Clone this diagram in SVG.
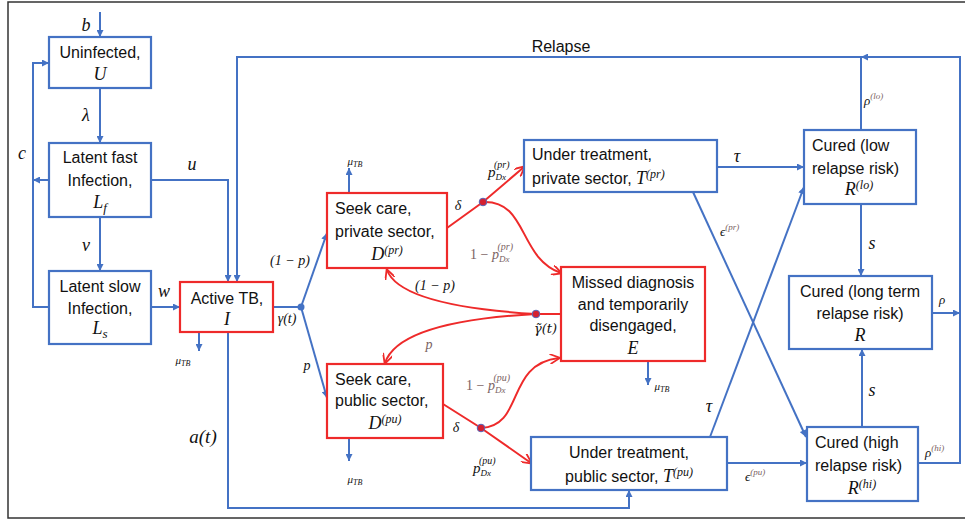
<svg xmlns="http://www.w3.org/2000/svg" width="965" height="521" viewBox="0 0 965 521">
<defs>
<style>
.nb{fill:#fff;stroke:#4472C4;stroke-width:2.2}
.nr{fill:#fff;stroke:#EE2A2A;stroke-width:2.2}
.t{font-family:"Liberation Sans",Arial,sans-serif;font-size:16px;fill:#111}
.m{font-family:"Liberation Serif","DejaVu Serif",serif;font-style:italic;fill:#111}
.cb{fill:none;stroke:#4472C4;stroke-width:2}
.cr{fill:none;stroke:#EE2A2A;stroke-width:2}
.ab{marker-end:url(#ab)}
.ar{marker-end:url(#ar)}
.g{fill:#7a6262}
</style>
<marker id="ab" viewBox="0 0 10 10" refX="10" refY="5" markerWidth="8" markerHeight="7" markerUnits="userSpaceOnUse" orient="auto"><path d="M0,0 L10,5 L0,10 z" fill="#4472C4"/></marker>
<marker id="ar" viewBox="0 0 10 10" refX="9" refY="5" markerWidth="11" markerHeight="10" markerUnits="userSpaceOnUse" orient="auto"><path d="M0,0 L10,5 L0,10" fill="none" stroke="#EE2A2A" stroke-width="1.8"/></marker>
</defs>
<rect x="0" y="0" width="965" height="521" fill="#fff"/>
<rect x="8" y="2" width="960" height="516" fill="none" stroke="#333" stroke-width="1.5"/>

<g id="connectors">
<line class="cb ab" x1="100" y1="12" x2="100" y2="37"/>
<line class="cb ab" x1="100" y1="88" x2="100" y2="143"/>
<line class="cb ab" x1="100" y1="217" x2="100" y2="271"/>
<line class="cb ab" x1="49" y1="180" x2="33" y2="180"/>
<polyline class="cb ab" points="49,307 33,307 33,63 49,63"/>
<polyline class="cb ab" points="151,180 228,180 228,282"/>
<line class="cb ab" x1="151" y1="307" x2="180" y2="307"/>
<polyline class="cb ab" points="918,463 960,463 960,57 861,57"/>
<polyline class="cb ab" points="861,130 861,57 237,57 237,282"/>
<line class="cb ab" x1="932" y1="313" x2="960" y2="313"/>
<line class="cb ab" x1="199" y1="332" x2="199" y2="351"/>
<line class="cb" x1="273" y1="307" x2="301" y2="307"/>
<line class="cb ab" x1="301" y1="307" x2="327" y2="233"/>
<line class="cb ab" x1="301" y1="307" x2="327" y2="398"/>
<circle cx="301" cy="307" r="3.5" fill="#4472C4"/>
<polyline class="cb ab" points="228,332 228,508 629,508 629,490"/>
<line class="cb ab" x1="349" y1="193" x2="349" y2="168"/>
<line class="cb ab" x1="349" y1="438" x2="349" y2="461"/>
<line class="cb ab" x1="648" y1="361" x2="648" y2="385"/>
<polyline class="cr ar" points="447,228 483,202 524,167"/>
<path class="cr ar" d="M483,202 C528,200 518,258 561,273"/>
<polyline class="cr ar" points="443,404 481,428 531,463"/>
<path class="cr ar" d="M481,428 C525,426 505,364 559,358"/>
<line class="cr" x1="536" y1="314" x2="565" y2="314"/>
<path class="cr ar" d="M536,314 C470,310 398,300 387,270"/>
<path class="cr ar" d="M536,314 C462,318 396,330 385,363"/>
<circle cx="483" cy="202" r="3.8" fill="#d42030" stroke="#5566bb" stroke-width="1"/>
<circle cx="481" cy="428" r="3.8" fill="#d42030" stroke="#5566bb" stroke-width="1"/>
<circle cx="536" cy="314" r="3.8" fill="#d42030" stroke="#5566bb" stroke-width="1"/>
<line class="cb ab" x1="717" y1="167" x2="804" y2="167"/>
<line class="cb ab" x1="693" y1="192" x2="806" y2="437"/>
<line class="cb ab" x1="710" y1="437" x2="804" y2="187"/>
<line class="cb ab" x1="727" y1="463" x2="807" y2="463"/>
<line class="cb ab" x1="861" y1="204" x2="861" y2="276"/>
<line class="cb ab" x1="862" y1="427" x2="862" y2="349"/>

<text class="m" x="86" y="31" font-size="18" text-anchor="middle">b</text>
<text class="m" x="86" y="121" font-size="18" text-anchor="middle">λ</text>
<text class="m" x="22" y="159" font-size="18" text-anchor="middle">c</text>
<text class="m" x="192" y="170" font-size="18" text-anchor="middle">u</text>
<text class="m" x="86" y="251" font-size="18" text-anchor="middle">v</text>
<text class="m" x="164" y="297" font-size="18" text-anchor="middle">w</text>
<text class="t" x="561" y="52" font-size="15" text-anchor="middle">Relapse</text>
<text class="m" x="183" y="364" font-size="11" text-anchor="middle">μ<tspan font-size="8" dy="2">TB</tspan></text>
<text class="m" x="203" y="443" font-size="19" text-anchor="middle">a(t)</text>
<text class="m" x="287" y="323" font-size="14" text-anchor="middle">γ(t)</text>
<text class="m" x="290" y="265" font-size="14" text-anchor="middle">(1 − p)</text>
<text class="m" x="307" y="370" font-size="14" text-anchor="middle">p</text>
<text class="m" x="355" y="165" font-size="11" text-anchor="middle">μ<tspan font-size="8" dy="2">TB</tspan></text>
<text class="m" x="355" y="483" font-size="11" text-anchor="middle">μ<tspan font-size="8" dy="2">TB</tspan></text>
<text class="m" x="662" y="390" font-size="11" text-anchor="middle">μ<tspan font-size="8" dy="2">TB</tspan></text>
<text class="m" x="458" y="210" font-size="14" text-anchor="middle">δ</text>
<text class="m" x="456" y="432" font-size="14" text-anchor="middle">δ</text>
<text class="m" x="488" y="177" font-size="15">p<tspan font-size="9" dy="3">Dx</tspan><tspan font-size="10" dx="-12" dy="-12">(pr)</tspan></text>
<text class="m" x="473" y="473" font-size="15">p<tspan font-size="9" dy="3">Dx</tspan><tspan font-size="10" dx="-12" dy="-12">(pu)</tspan></text>
<text class="m g" x="470" y="259" font-size="14"><tspan font-style="normal">1 − </tspan>p<tspan font-size="9" dy="3">Dx</tspan><tspan font-size="10" dx="-12" dy="-12">(pr)</tspan></text>
<text class="m g" x="466" y="390" font-size="14"><tspan font-style="normal">1 − </tspan>p<tspan font-size="9" dy="3">Dx</tspan><tspan font-size="10" dx="-12" dy="-12">(pu)</tspan></text>
<text class="m" x="435" y="290" font-size="14" text-anchor="middle">(1 − p)</text>
<text class="m g" x="429" y="349" font-size="14" text-anchor="middle">p</text>
<text x="534" y="333" font-size="13" font-style="italic" font-family="'DejaVu Serif',serif" fill="#111">γ̃(t)</text>
<text class="m" x="737" y="162" font-size="18" text-anchor="middle">τ</text>
<text class="m" x="709" y="412" font-size="18" text-anchor="middle">τ</text>
<text class="m" x="720" y="236" font-size="13">ϵ<tspan font-size="9" dy="-6" class="g">(pr)</tspan></text>
<text class="m" x="745" y="481" font-size="13">ϵ<tspan font-size="9" dy="-6" class="g">(pu)</tspan></text>
<text class="m" x="864" y="105" font-size="13">ρ<tspan font-size="9" dy="-6" class="g">(lo)</tspan></text>
<text class="m" x="925" y="457" font-size="13">ρ<tspan font-size="9" dy="-6" class="g">(hi)</tspan></text>
<text class="m" x="942" y="304" font-size="13" text-anchor="middle">ρ</text>
<text class="m" x="872" y="249" font-size="18" text-anchor="middle">s</text>
<text class="m" x="872" y="396" font-size="18" text-anchor="middle">s</text>
</g>

<g id="node-U">
<rect class="nb" x="49" y="37" width="102" height="51"/>
<text class="t" x="100" y="58" text-anchor="middle">Uninfected,</text>
<text class="m" x="100" y="80" font-size="18" text-anchor="middle">U</text>
</g>
<g id="node-Lf">
<rect class="nb" x="49" y="143" width="102" height="74"/>
<text class="t" x="100" y="163" text-anchor="middle">Latent fast</text>
<text class="t" x="100" y="186" text-anchor="middle">Infection,</text>
<text class="m" x="100" y="208" font-size="18" text-anchor="middle">L<tspan font-size="13" dy="4">f</tspan></text>
</g>
<g id="node-Ls">
<rect class="nb" x="49" y="271" width="102" height="73"/>
<text class="t" x="100" y="292" text-anchor="middle">Latent slow</text>
<text class="t" x="100" y="314" text-anchor="middle">Infection,</text>
<text class="m" x="100" y="334" font-size="18" text-anchor="middle">L<tspan font-size="13" dy="4">s</tspan></text>
</g>
<g id="node-I">
<rect class="nr" x="180" y="282" width="93" height="50"/>
<text class="t" x="227" y="304" text-anchor="middle">Active TB,</text>
<text class="m" x="227" y="325" font-size="18" text-anchor="middle">I</text>
</g>
<g id="node-Dpr">
<rect class="nr" x="327" y="193" width="120" height="75"/>
<text class="t" x="335" y="214">Seek care,</text>
<text class="t" x="335" y="237">private sector,</text>
<text class="m" x="387" y="260" font-size="18" text-anchor="middle">D<tspan font-size="12" dy="-6">(pr)</tspan></text>
</g>
<g id="node-Dpu">
<rect class="nr" x="327" y="364" width="116" height="74"/>
<text class="t" x="335" y="385">Seek care,</text>
<text class="t" x="335" y="406">public sector,</text>
<text class="m" x="385" y="429" font-size="18" text-anchor="middle">D<tspan font-size="12" dy="-6">(pu)</tspan></text>
</g>
<g id="node-Tpr">
<rect class="nb" x="524" y="140" width="193" height="52"/>
<text class="t" x="532" y="160">Under treatment,</text>
<text class="t" x="532" y="184">private sector, <tspan class="m" font-size="18">T<tspan font-size="12" dy="-6">(pr)</tspan></tspan></text>
</g>
<g id="node-E">
<rect class="nr" x="561" y="267" width="144" height="94"/>
<text class="t" x="633" y="288" text-anchor="middle">Missed diagnosis</text>
<text class="t" x="633" y="310" text-anchor="middle">and temporarily</text>
<text class="t" x="633" y="331" text-anchor="middle">disengaged,</text>
<text class="m" x="633" y="354" font-size="18" text-anchor="middle">E</text>
</g>
<g id="node-Tpu">
<rect class="nb" x="531" y="437" width="196" height="53"/>
<text class="t" x="629" y="458" text-anchor="middle">Under treatment,</text>
<text class="t" x="629" y="482" text-anchor="middle">public sector, <tspan class="m" font-size="18">T<tspan font-size="12" dy="-6">(pu)</tspan></tspan></text>
</g>
<g id="node-Rlo">
<rect class="nb" x="804" y="130" width="112" height="74"/>
<text class="t" x="812" y="151">Cured (low</text>
<text class="t" x="812" y="174">relapse risk)</text>
<text class="m" x="859" y="195" font-size="18" text-anchor="middle">R<tspan font-size="12" dy="-6">(lo)</tspan></text>
</g>
<g id="node-R">
<rect class="nb" x="789" y="276" width="143" height="73"/>
<text class="t" x="860" y="297" text-anchor="middle">Cured (long term</text>
<text class="t" x="860" y="319" text-anchor="middle">relapse risk)</text>
<text class="m" x="860" y="341" font-size="18" text-anchor="middle">R</text>
</g>
<g id="node-Rhi">
<rect class="nb" x="807" y="427" width="111" height="74"/>
<text class="t" x="815" y="448">Cured (high</text>
<text class="t" x="815" y="471">relapse risk)</text>
<text class="m" x="862" y="494" font-size="18" text-anchor="middle">R<tspan font-size="12" dy="-6">(hi)</tspan></text>
</g>
</svg>
